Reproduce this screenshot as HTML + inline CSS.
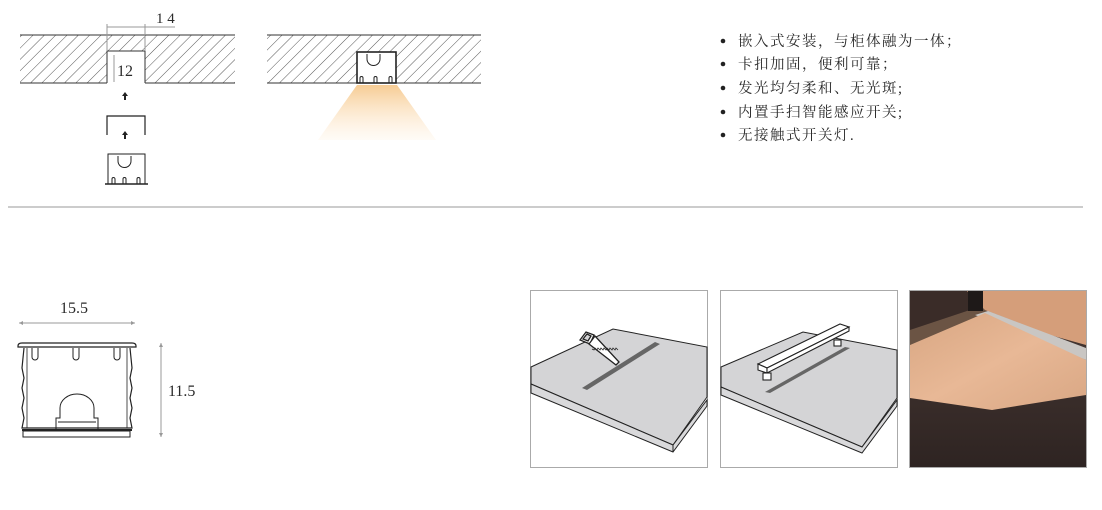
<!DOCTYPE html>
<html><head><meta charset="utf-8"><style>
html,body{margin:0;padding:0;background:#fff;width:1102px;height:510px;overflow:hidden}
svg{display:block}
.t{font-family:"Liberation Serif","Noto Serif CJK SC",serif;fill:#2a2a2a}
</style></head><body>
<svg width="1102" height="510" viewBox="0 0 1102 510" xmlns="http://www.w3.org/2000/svg">
<defs>
<pattern id="h" patternUnits="userSpaceOnUse" width="8" height="8" patternTransform="rotate(45)">
<line x1="0" y1="0" x2="0" y2="8" stroke="#444" stroke-width="0.9"/>
</pattern>
<linearGradient id="beam" x1="0" y1="0" x2="0" y2="1">
<stop offset="0" stop-color="#f6c98e" stop-opacity="0.95"/>
<stop offset="1" stop-color="#fde6c8" stop-opacity="0.15"/>
</linearGradient>
<linearGradient id="wood" x1="0" y1="0" x2="1" y2="1">
<stop offset="0" stop-color="#d8a682"/>
<stop offset="0.5" stop-color="#e8b896"/>
<stop offset="1" stop-color="#d9a784"/>
</linearGradient>
<linearGradient id="floor" x1="0" y1="0" x2="0" y2="1">
<stop offset="0" stop-color="#4a3a35"/>
<stop offset="1" stop-color="#2e2422"/>
</linearGradient>
</defs>

<!-- top-left slab -->
<rect x="20" y="35" width="87" height="48" fill="url(#h)"/>
<rect x="107" y="35" width="38" height="16" fill="url(#h)"/>
<rect x="145" y="35" width="90" height="48" fill="url(#h)"/>
<line x1="20" y1="35" x2="235" y2="35" stroke="#333" stroke-width="1"/>
<line x1="20" y1="83" x2="107" y2="83" stroke="#333"/>
<line x1="145" y1="83" x2="235" y2="83" stroke="#333"/>
<polyline points="107,83 107,51 145,51 145,83" fill="none" stroke="#333"/>
<line x1="107" y1="27" x2="175" y2="27" stroke="#999"/>
<line x1="107" y1="24" x2="107" y2="51" stroke="#999"/>
<line x1="145" y1="24" x2="145" y2="51" stroke="#999"/>
<line x1="114" y1="55" x2="114" y2="82" stroke="#999"/>
<text class="t" x="156" y="23" font-size="15">1 4</text>
<text class="t" x="117" y="76" font-size="16">12</text>
<path d="M125 92 l-3 4 h2 v4 h2 v-4 h2z" fill="#222"/>
<path d="M125 131 l-3 4 h2 v4 h2 v-4 h2z" fill="#222"/>
<path d="M107 126 v-10 h38 v10 M107 119 v16 M145 119 v16" fill="none" stroke="#222" stroke-width="1.2"/>
<g fill="none" stroke="#222" stroke-width="1">
<rect x="108" y="154" width="37" height="30"/>
<line x1="105" y1="184" x2="148" y2="184" stroke-width="1.5"/>
<path d="M118 156 v5 a6 6 0 0 0 13 0 v-5"/>
<path d="M112 184 v-5 a1.5 1.5 0 0 1 3 0 v5 M123 184 v-5 a1.5 1.5 0 0 1 3 0 v5 M137 184 v-5 a1.5 1.5 0 0 1 3 0 v5"/>
</g>

<!-- top-right slab -->
<rect x="267" y="35" width="214" height="48" fill="url(#h)"/>
<line x1="267" y1="35" x2="481" y2="35" stroke="#333"/>
<line x1="267" y1="83" x2="481" y2="83" stroke="#333"/>
<polygon points="357,85 397,85 436,140 318,140" fill="url(#beam)"/>
<rect x="357" y="52" width="39" height="31" fill="#fff" stroke="#222" stroke-width="1.6"/>
<g fill="none" stroke="#222">
<path d="M367 54 v5 a6 6 0 0 0 13 0 v-5"/>
<path d="M360 83 v-5 a1.5 1.5 0 0 1 3 0 v5 M374 83 v-5 a1.5 1.5 0 0 1 3 0 v5 M389 83 v-5 a1.5 1.5 0 0 1 3 0 v5"/>
</g>

<!-- bullets -->
<g class="t" font-size="14.5" letter-spacing="1.5">
<circle cx="723" cy="41" r="2.3" fill="#222"/><text x="738" y="46">嵌入式安装，与柜体融为一体；</text>
<circle cx="723" cy="64" r="2.3" fill="#222"/><text x="738" y="69">卡扣加固，便利可靠；</text>
<circle cx="723" cy="88" r="2.3" fill="#222"/><text x="738" y="93">发光均匀柔和、无光斑;</text>
<circle cx="723" cy="112" r="2.3" fill="#222"/><text x="738" y="117">内置手扫智能感应开关;</text>
<circle cx="723" cy="135" r="2.3" fill="#222"/><text x="738" y="140">无接触式开关灯.</text>
</g>

<line x1="8" y1="207" x2="1083" y2="207" stroke="#999" stroke-width="1"/>

<!-- bottom profile -->
<text class="t" x="60" y="313" font-size="16">15.5</text>
<line x1="19" y1="323" x2="135" y2="323" stroke="#999"/>
<path d="M19 323 l4 -2 v4z M135 323 l-4 -2 v4z" fill="#999"/>
<line x1="161" y1="343" x2="161" y2="437" stroke="#999"/>
<path d="M161 343 l-2 4 h4z M161 437 l-2 -4 h4z" fill="#999"/>
<text class="t" x="168" y="396" font-size="16">11.5</text>
<g fill="none" stroke="#222" stroke-width="1.2">
<path d="M18 346 q0 -3 4 -3 h110 q4 0 4 3 v1 h-118z"/>
<path d="M24 348 l-2 20 l2 10 l-2 10 l2 10 l-2 10 l2 10 l-2 10 h110 l-2 -10 l2 -10 l-2 -10 l2 -10 l-2 -10 l2 -10 l-2 -20"/>
<line x1="27" y1="348" x2="27" y2="428" stroke-width="0.8"/>
<line x1="127" y1="348" x2="127" y2="428" stroke-width="0.8"/>
<line x1="22" y1="430" x2="132" y2="430" stroke-width="2"/>
<rect x="23" y="431" width="107" height="6" stroke-width="1"/>
<path d="M32 348 v9 a3 3 0 0 0 6 0 v-9 M73 348 v9 a3 3 0 0 0 6 0 v-9 M114 348 v9 a3 3 0 0 0 6 0 v-9" stroke-width="1"/>
<path d="M56 430 v-12 h4 v-10 a17 14 0 0 1 34 0 v10 h4 v12" stroke-width="1"/>
<line x1="58" y1="422" x2="96" y2="422" stroke-width="1"/>
</g>

<!-- panel 1 -->
<rect x="530.5" y="290.5" width="177" height="177" fill="#fff" stroke="#aaa"/>
<g stroke="#222" stroke-width="1">
<polygon points="531,367 613,329 707,347 707,397 673,445 531,384" fill="#d4d4d6"/>
<polygon points="531,384 673,445 707,400 707,406 673,452 531,393" fill="#d9d9db"/>
<line x1="673" y1="445" x2="673" y2="452"/>
</g>
<polygon points="582,388 587,390 660,344 655,342" fill="#666"/>
<g stroke="#222" fill="#fff" stroke-width="1.3">
<path d="M580 340 l6 -8 l8 3 l-4 9z"/>
<path d="M583 339 l4 -5 l4 2 l-3 5z" fill="#d4d4d6"/>
<path d="M589 344 l6 -8 l24 26 l-3 3 z"/>
<path d="M592 349 l2 1 l1 -2 l2 2 l1 -2 l2 2 l1 -2 l2 2 l1 -2 l2 2 l1 -2 l2 2 l1 -2 l2 2 l1 -2 l2 2 l1 -2 l2 2" fill="none" stroke-width="0.8"/>
</g>

<!-- panel 2 -->
<rect x="720.5" y="290.5" width="177" height="177" fill="#fff" stroke="#aaa"/>
<g stroke="#222" stroke-width="1">
<polygon points="721,367 803,332 897,350 897,398 862,447 721,387" fill="#d4d4d6"/>
<polygon points="721,387 862,447 897,400 897,406 862,453 721,395" fill="#d9d9db"/>
</g>
<polygon points="765,392 770,393 850,348 845,347" fill="#666"/>
<g stroke="#222" fill="#fff" stroke-width="1.1">
<polygon points="758,364 840,324 849,327 767,368"/>
<polygon points="758,364 767,368 767,373 758,370"/>
<polygon points="767,368 849,327 849,331 767,373"/>
<rect x="763" y="373" width="8" height="7"/>
<rect x="834" y="340" width="7" height="6"/>
</g>

<!-- panel 3 photo -->
<rect x="909.5" y="290.5" width="177" height="177" fill="url(#floor)" stroke="#aaa"/>
<polygon points="910,291 1000,291 1000,300 910,330" fill="#3a2c28"/>
<polygon points="910,330 1000,300 1000,312 910,345" fill="#6b5444"/>
<polygon points="967,291 1086,291 1086,345 1050,335 985,310 975,300" fill="#d59e7a"/>
<rect x="968" y="291" width="15" height="20" fill="#1e1918"/>
<polygon points="975,315 988,311 1086,348 1086,360" fill="#c9c6c3"/>
<polygon points="910,345 985,313 1086,360 1086,395 992,410 910,398" fill="url(#wood)"/>
<rect x="909.5" y="290.5" width="177" height="177" fill="none" stroke="#aaa"/>
</svg>
</body></html>
